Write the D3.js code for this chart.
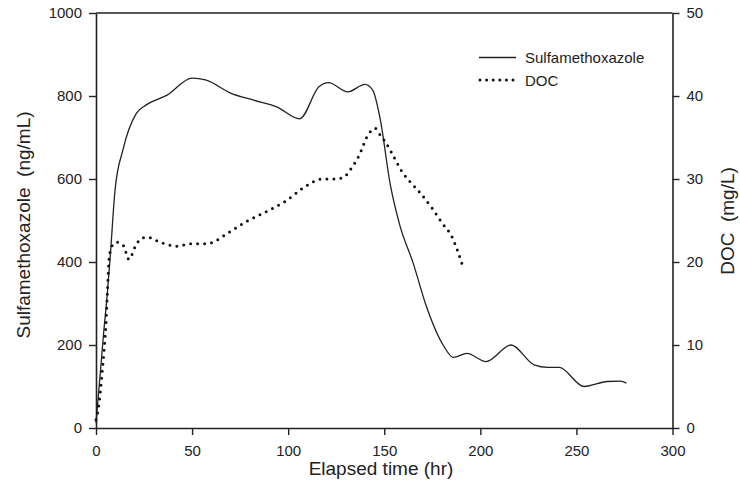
<!DOCTYPE html>
<html><head><meta charset="utf-8">
<script src="https://cdn.jsdelivr.net/npm/d3@7"></script>
<style>body{margin:0;background:#fff}svg{display:block}text{font-family:"Liberation Sans",Arial,sans-serif;fill:#222;white-space:pre}</style>
</head><body><div id="chart"></div>
<script>
const smxTime = [0,2,4,6,7.4,9.9,14,21,26,37,50,57,70,82,94,106,116,121,131,140,144,148,153,158,165,172,181,186,193,203,216,228,235,241,254,266,273,276];
const smxValue = [12,120,230,330,413,573,670,758,778,802,843,839,807,790,774,745,822,832,810,828,814,742,590,490,398,292,197,170,180,160,200,152,146,146,100,112,113,108];
const docTime = [0,1.6,3,4.2,5.2,5.9,6.9,8.5,10.8,14.2,17.2,20.3,22.9,26.4,34.2,42,49,56.8,61.1,68,78.5,90.6,98.4,109.7,117.5,124.5,128.8,132.3,136.6,141.8,145.3,147.9,150.5,154.9,159.2,165.3,168.8,174.8,180.1,185.3,188.7,191];
const docValue = [1,3.0,6.2,9.4,12.6,16.2,20.6,22,22.4,22.0,20.3,21.8,22.7,23.0,22.3,21.9,22.2,22.2,22.4,23.4,24.9,26.3,27.3,29.2,30.0,30.0,30.2,31.1,32.7,35.4,36.1,35.3,34.5,32.7,30.9,29.2,28.3,26.5,24.7,23.0,21.0,19.4];
const xTicks = [0,50,100,150,200,250,300];
const yLeftTicks = [0,200,400,600,800,1000];
const yRightTicks = [0,10,20,30,40,50];
const seriesNames = ["Sulfamethoxazole","DOC"];

const W=740,H=498, L=96, R=672.5, T=13, B=428;
const svg=d3.select("#chart").append("svg").attr("width",W).attr("height",H);
const x=d3.scaleLinear().domain([0,300]).range([L,R]);
const yL=d3.scaleLinear().domain([0,1000]).range([B,T]);
const yR=d3.scaleLinear().domain([0,50]).range([B,T]);
const fmt=d3.format("d");

function styleAxis(g){
  g.select(".domain").attr("stroke","#222").attr("stroke-width",1.6);
  g.selectAll(".tick line").attr("stroke","#222").attr("stroke-width",1.4);
  g.selectAll(".tick text").style("font-size","15px").attr("fill","#222");
}
svg.append("g").attr("transform",`translate(0,${B})`)
  .call(d3.axisBottom(x).tickValues(xTicks).tickFormat(fmt).tickSize(7).tickSizeOuter(0).tickPadding(10)).call(styleAxis);
svg.append("g").attr("transform",`translate(${L},0)`)
  .call(d3.axisLeft(yL).tickValues(yLeftTicks).tickFormat(fmt).tickSize(7).tickSizeOuter(0).tickPadding(7)).call(styleAxis);
svg.append("g").attr("transform",`translate(${R},0)`)
  .call(d3.axisRight(yR).tickValues(yRightTicks).tickFormat(fmt).tickSize(7).tickSizeOuter(0).tickPadding(7)).call(styleAxis);
svg.append("line").attr("x1",L).attr("x2",R).attr("y1",T).attr("y2",T).attr("stroke","#222").attr("stroke-width",1.6);

const smx=smxTime.map((t,i)=>[t,smxValue[i]]);
const doc=docTime.map((t,i)=>[t,docValue[i]]);
svg.append("path").datum(smx).attr("fill","none").attr("stroke","#222").attr("stroke-width",1.3)
  .attr("d",d3.line().x(d=>x(d[0])).y(d=>yL(d[1])).curve(d3.curveMonotoneX));
svg.append("path").datum(doc).attr("fill","none").attr("stroke","#111").attr("stroke-width",3)
  .attr("stroke-linecap","round").attr("stroke-dasharray","0 7")
  .attr("d",d3.line().x(d=>x(d[0])).y(d=>yR(d[1])).curve(d3.curveMonotoneX));

// axis titles
svg.append("text").attr("x",381).attr("y",475).attr("text-anchor","middle").style("font-size","19px").text("Elapsed time (hr)");
svg.append("text").attr("transform","translate(30,225) rotate(-90)").attr("text-anchor","middle").style("font-size","19px").text("Sulfamethoxazole  (ng/mL)");
svg.append("text").attr("transform","translate(734,221) rotate(-90)").attr("text-anchor","middle").style("font-size","19px").text("DOC  (mg/L)");

// legend
const lg=svg.append("g");
lg.append("line").attr("x1",479).attr("x2",516).attr("y1",57.5).attr("y2",57.5).attr("stroke","#222").attr("stroke-width",1.3);
lg.append("line").attr("x1",480).attr("x2",514).attr("y1",80).attr("y2",80).attr("stroke","#111").attr("stroke-width",3)
  .attr("stroke-linecap","round").attr("stroke-dasharray","0 6.6");
lg.append("text").attr("x",525).attr("y",63).style("font-size","15px").text(seriesNames[0]);
lg.append("text").attr("x",525).attr("y",85.5).style("font-size","15px").text(seriesNames[1]);
</script></body></html>
